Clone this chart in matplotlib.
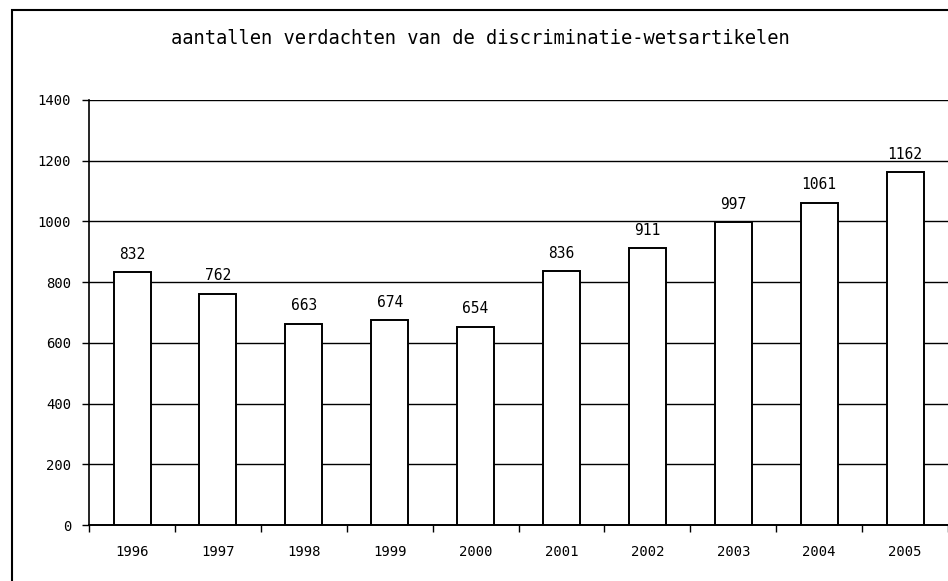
import matplotlib
matplotlib.use("Agg")
from matplotlib import pyplot as plt
from matplotlib.patches import Rectangle
import numpy as np

years = ["1996", "1997", "1998", "1999", "2000", "2001", "2002", "2003", "2004", "2005"]
counts = [832, 762, 663, 674, 654, 836, 911, 997, 1061, 1162]
yticks = [0, 200, 400, 600, 800, 1000, 1200, 1400]

title = "aantallen verdachten van de discriminatie-wetsartikelen"

fig = plt.figure(figsize=(9.48, 5.81), dpi=100)
ax = fig.add_axes([0.094, 0.096, 0.906, 0.732])

x = np.arange(len(years))
ax.set_axisbelow(True)
ax.yaxis.grid(True, color="black", linewidth=1.0)
ax.bar(x, counts, width=0.43, color="white", edgecolor="black", linewidth=1.4, zorder=3)

for xi, v in zip(x, counts):
    ax.text(xi, v + 35, str(v), ha="center", va="bottom", fontsize=10.5,
            family="DejaVu Sans Mono")

ax.set_xlim(-0.5, len(years) - 0.5)
ax.set_ylim(0, 1400)
ax.set_yticks(yticks)
ax.set_yticklabels([str(t) for t in yticks], family="DejaVu Sans Mono", fontsize=10)

# years as labels, ticks on the category boundaries
ax.set_xticks(x)
ax.set_xticklabels(years, family="DejaVu Sans Mono", fontsize=10)
ax.tick_params(axis="x", which="major", length=0, pad=14)
ax.set_xticks(np.arange(len(years) + 1) - 0.5, minor=True)
ax.tick_params(axis="x", which="minor", length=5, width=1, direction="out")
ax.tick_params(axis="y", length=5, width=1, direction="out", pad=8)

for s in ["top", "right"]:
    ax.spines[s].set_visible(False)
ax.spines["left"].set_linewidth(1.2)
ax.spines["bottom"].set_linewidth(1.4)

fig.text(0.507, 0.934, title, ha="center", va="center", fontsize=13.5,
         family="DejaVu Sans Mono")

# outer frame of the scanned page
fig.patches.append(Rectangle((0.013, -0.05), 1.05, 1.033, transform=fig.transFigure,
                             fill=False, edgecolor="black", linewidth=1.5))

plt.savefig("out.png", dpi=100)
